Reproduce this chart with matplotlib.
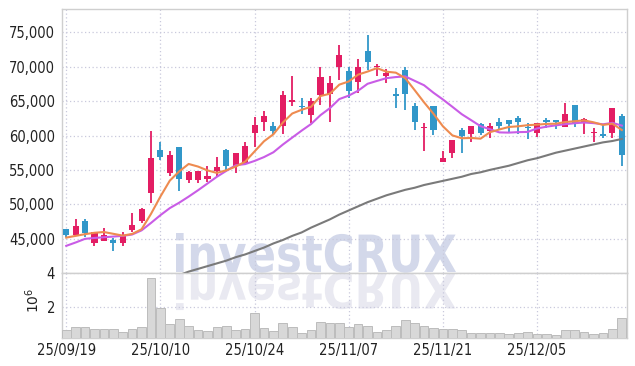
import numpy as np
import matplotlib
matplotlib.use("Agg")
import matplotlib.pyplot as plt
from matplotlib.textpath import TextPath
from matplotlib.patches import PathPatch
from matplotlib.font_manager import FontProperties
from matplotlib.transforms import Affine2D, IdentityTransform

# ---------------- data ----------------
date_labels = ["25/09/19", "25/10/10", "25/10/24", "25/11/07", "25/11/21", "25/12/05"]
date_label_idx = [0, 10, 20, 30, 40, 50]

opens = [46400, 45600, 47600, 44400, 44600, 44800, 44400, 46300, 47500, 51700,
         57900, 54600, 58300, 53500, 53500, 53700, 54800, 57900, 55600, 55900,
         60400, 62000, 61400, 61400, 64900, 64300, 63000, 65900, 66100, 69900,
         69400, 67800, 72300, 69900, 68700, 66000, 69500, 64300, 61100, 64300,
         56200, 57500, 60800, 60200, 61700, 60700, 62000, 62300, 62600, 61200,
         60300, 62300, 62300, 61300, 64400, 62000, 60300, 60100, 60300, 62800]
highs = [46400, 47800, 47800, 45900, 46500, 45100, 45900, 48700, 49400, 60600,
         59000, 57800, 58300, 54900, 54900, 55600, 56900, 58000, 57400, 59000,
         62700, 63600, 62000, 66500, 68700, 65400, 65400, 69900, 68700, 73200,
         70000, 71200, 74600, 70400, 69700, 66900, 70000, 64700, 61800, 64300,
         57800, 59400, 61100, 61400, 61800, 61800, 62500, 62300, 62800, 61800,
         61800, 62600, 62300, 64700, 64500, 62500, 61100, 61700, 64000, 63200]
lows = [45200, 45600, 45200, 44000, 44600, 43200, 44000, 46000, 47300, 50200,
        56500, 54100, 52000, 53100, 53100, 53300, 54100, 54800, 54500, 55900,
        58400, 60700, 60100, 60200, 64300, 63100, 61800, 64500, 61900, 68100,
        65400, 66200, 69500, 68700, 67700, 64000, 63700, 60800, 57800, 60100,
        56200, 56800, 57500, 59000, 60100, 59700, 60800, 60500, 60200, 59500,
        59800, 61100, 60900, 61300, 61200, 60200, 59100, 59700, 59600, 55500]
closes = [45600, 46900, 45800, 45900, 45600, 44300, 45600, 47000, 49300, 56800,
          56900, 57200, 53700, 54700, 54900, 54100, 55400, 55600, 57400, 58500,
          61500, 62800, 60700, 65900, 65100, 64200, 65000, 68500, 67600, 71700,
          66500, 70000, 70700, 70100, 69100, 65800, 66000, 62000, 61200, 60800,
          56700, 59400, 59900, 61400, 60300, 61400, 61400, 61700, 61900, 61100,
          61800, 61900, 61900, 63100, 61700, 62400, 60500, 60000, 64000, 57100]

ma_short = [45150, 45400, 45650, 45850, 45960, 45700, 45440, 45680, 46360, 48600,
            51120, 53440, 54780, 55860, 55480, 54920, 54560, 54940, 55480, 56200,
            57680, 59160, 60180, 61880, 63200, 63740, 64180, 65740, 66080, 67400,
            67860, 68860, 69300, 69800, 69280, 69140, 68340, 66600, 64820, 63160,
            61340, 60020, 59600, 59640, 59540, 60480, 60880, 61240, 61340, 61500,
            61580, 61680, 61720, 61960, 62080, 62200, 61920, 61540, 61720, 60800]
ma_mid = [43950, 44440, 44970, 45100, 45200, 45300, 45400, 45600, 46200, 47280,
          48410, 49440, 50230, 51110, 52040, 53020, 54000, 54860, 55670, 55840,
          56300, 56860, 57560, 58680, 59700, 60710, 61670, 62960, 63980, 65300,
          65800, 66520, 67520, 67940, 68340, 68500, 68600, 67950, 67310, 66220,
          65240, 64180, 63100, 62230, 61350, 60910, 60450, 60420, 60490, 60520,
          61030, 61280, 61480, 61650, 61790, 61890, 61800, 61630, 61840, 61440]
ma_long = [np.nan] * 11 + [39200, 39700,
           40200, 40600, 41000, 41400, 41800, 42300, 42700, 43200, 43700, 44300,
           44800, 45400, 45900, 46600, 47200, 47800, 48500, 49100, 49700, 50300,
           50800, 51300, 51700, 52100, 52400, 52800, 53100, 53400, 53700, 54000,
           54400, 54650, 55000, 55300, 55600, 56000, 56400, 56700, 57100, 57500,
           57800, 58100, 58400, 58700, 59000, 59200, 59500]
volumes = [0.60, 0.76, 0.76, 0.64, 0.64, 0.64, 0.48, 0.64, 0.76, 3.70,
           1.90, 0.96, 1.24, 0.84, 0.60, 0.54, 0.76, 0.82, 0.60, 0.64,
           1.60, 0.70, 0.54, 1.00, 0.76, 0.40, 0.58, 1.08, 1.04, 1.00,
           0.76, 0.96, 0.82, 0.48, 0.60, 0.84, 1.18, 1.02, 0.84, 0.72,
           0.66, 0.64, 0.58, 0.42, 0.42, 0.42, 0.40, 0.36, 0.44, 0.50,
           0.36, 0.34, 0.28, 0.60, 0.60, 0.48, 0.36, 0.42, 0.66, 1.32]  # millions

price_ticks = [45000, 50000, 55000, 60000, 65000, 70000, 75000]
vol_ticks = [2, 4]

# ---------------- figure ----------------
W, H = 635, 366
fig = plt.figure(figsize=(W / 100, H / 100), dpi=100)
fig.patch.set_facecolor("white")

def fx(px):
    return px / W

def fy(py):
    return 1 - py / H

L, R = 62, 627
ax = fig.add_axes([fx(L), fy(273), fx(R) - fx(L), fy(9) - fy(273)])
axv = fig.add_axes([fx(L), fy(337.5), fx(R) - fx(L), fy(273) - fy(337.5)], sharex=ax)

UP = "#e31d63"
DOWN = "#3197c9"
GRID = "#c9c9dc"
EDGE = "#cfcfcf"
TXT = "#222222"

n = len(closes)
x = np.arange(n)
o = np.array(opens, float)
c = np.array(closes, float)
h = np.array(highs, float)
lo = np.array(lows, float)
colors = [UP if cc >= oo else DOWN for oo, cc in zip(o, c)]

tick_font = dict(family="DejaVu Sans", stretch="condensed", size=10.5, color=TXT)

for a in (ax, axv):
    a.set_facecolor("white")
    a.set_axisbelow(True)
    a.grid(True, color=GRID, linestyle=(0, (1, 2)), linewidth=0.9)
    for s in a.spines.values():
        s.set_color(EDGE)
        s.set_linewidth(1.0)
    a.tick_params(length=0, pad=5)

# watermark (text + reflection), drawn in display pixels
fp = FontProperties(family="DejaVu Sans", weight="bold")
tp = TextPath((0, 0), "investCRUX", size=100, prop=fp)
bb = tp.get_extents()
x0, x1 = 176, 456
top_img, base_img = 233, 272
sx = (x1 - x0) / bb.width
sy = (base_img - top_img) / bb.y1
tr_main = Affine2D().translate(-bb.x0, 0).scale(sx, sy).translate(x0, H - base_img)
tr_refl = Affine2D().translate(-bb.x0, 0).scale(sx, -sy * 0.95).translate(x0, H - base_img - 1)
pm = PathPatch(tr_main.transform_path(tp), facecolor="#d3d8ea", edgecolor="none",
               transform=IdentityTransform(), zorder=0.2)
pr = PathPatch(tr_refl.transform_path(tp), facecolor="#e9e9f1", edgecolor="none",
               transform=IdentityTransform(), zorder=0.2)
ax.add_artist(pm)
axv.add_artist(pr)

# candles
ax.vlines(x, lo, h, colors=colors, linewidth=1.3, zorder=3)
body_bottom = np.minimum(o, c)
body_h = np.maximum(np.abs(c - o), 150)
ax.bar(x, body_h, bottom=body_bottom, width=0.64, color=colors, edgecolor="none", zorder=4)

# moving averages
ax.plot(x, ma_long, color="#7a7a7a", linewidth=1.5, zorder=5)
ax.plot(x, ma_mid, color="#c95ce6", linewidth=1.5, zorder=5)
ax.plot(x, ma_short, color="#ee8b50", linewidth=1.5, zorder=6)

ax.set_xlim(-0.45, n - 0.45)
ax.set_ylim(40000, 78400)
ax.set_yticks(price_ticks)
ax.set_yticklabels([f"{v:,}" for v in price_ticks], fontdict=tick_font)
ax.set_xticks(date_label_idx)
plt.setp(ax.get_xticklabels(), visible=False)

# volume
axv.bar(x, np.array(volumes) * 1e6, width=0.92, color="#d8d8d8", edgecolor="#bcbcbc",
        linewidth=0.7, zorder=3)
axv.set_ylim(0.16e6, 4.0e6)
axv.set_yticks([v * 1e6 for v in vol_ticks])
axv.set_yticklabels([str(v) for v in vol_ticks], fontdict=tick_font)
axv.set_xticks(date_label_idx)
axv.set_xticklabels(date_labels, fontdict=tick_font)
axv.tick_params(axis="x", pad=4)

fig.text(fx(33), fy(300), r"$10^6$", rotation=90, ha="center", va="center",
         fontsize=10, color=TXT, family="DejaVu Serif")

fig.savefig("out.png", dpi=100, facecolor="white")
